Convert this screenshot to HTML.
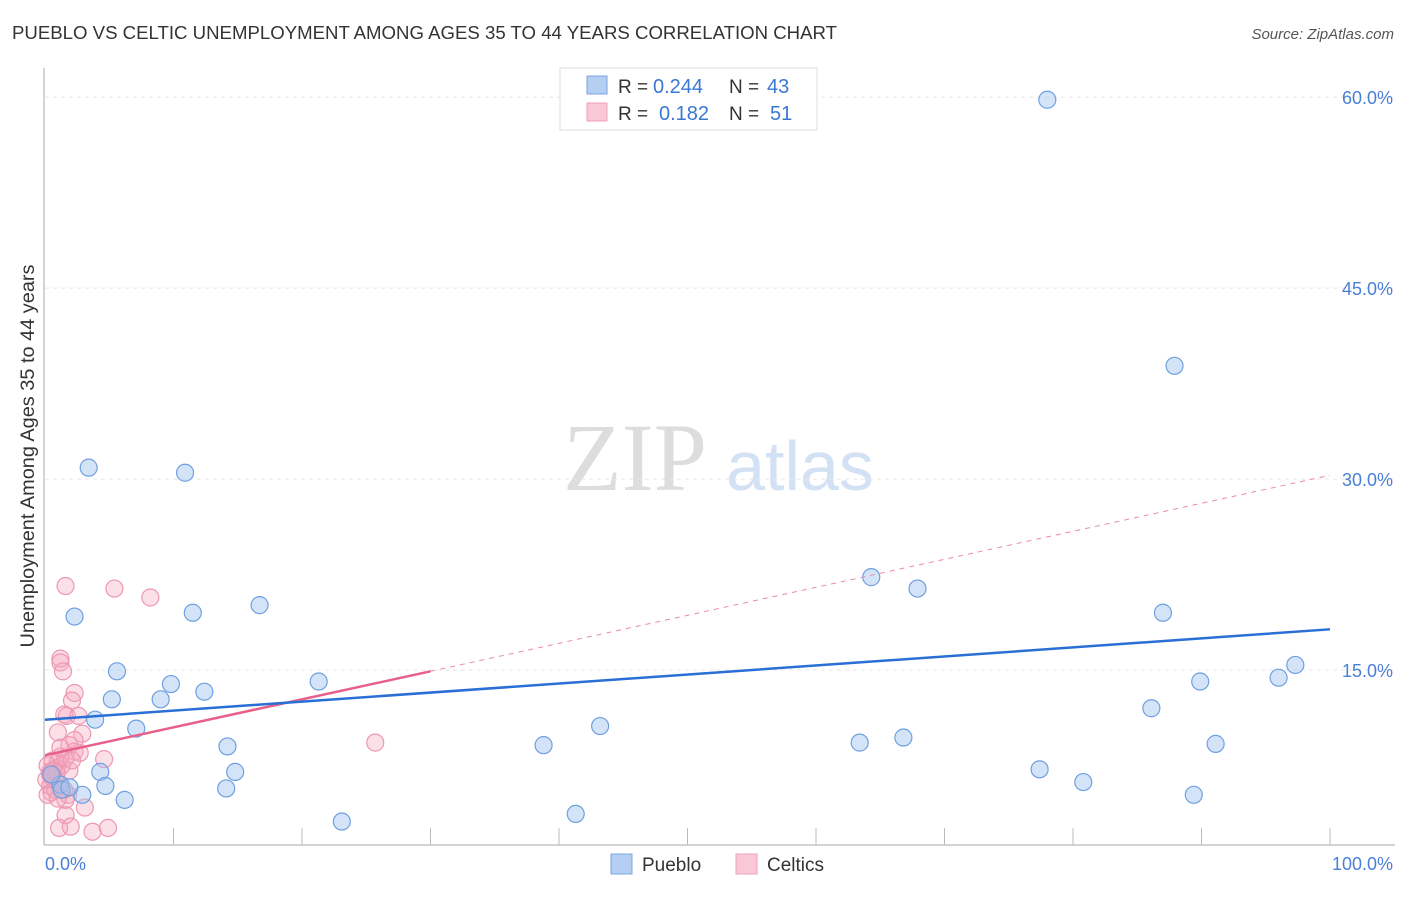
<!DOCTYPE html>
<html><head><meta charset="utf-8"><style>
body{margin:0;background:#fff;font-family:"Liberation Sans",sans-serif}
svg text{font-family:"Liberation Sans",sans-serif}
</style></head><body>
<svg id="c" width="1406" height="892">
<text x="12" y="39" font-size="18" fill="#333" textLength="825" lengthAdjust="spacingAndGlyphs">PUEBLO VS CELTIC UNEMPLOYMENT AMONG AGES 35 TO 44 YEARS CORRELATION CHART</text>
<text x="1394" y="39" font-size="15" fill="#555" font-style="italic" text-anchor="end">Source: ZipAtlas.com</text>
<text x="635" y="490" font-size="96" fill="#ddd" text-anchor="middle" style="font-family:'Liberation Serif',serif">ZIP</text>
<text x="800" y="490" font-size="70" fill="#d3e1f5" text-anchor="middle">atlas</text>
<text transform="translate(34,456) rotate(-90)" font-size="19" fill="#333" text-anchor="middle" textLength="383" lengthAdjust="spacingAndGlyphs">Unemployment Among Ages 35 to 44 years</text>
<g id="grid"></g><g id="axes"></g><g id="pts"></g><g id="lines"></g>
<g>
<rect x="560" y="68" width="257" height="62" fill="#fff" stroke="#ddd"/>
<rect x="587" y="76" width="20" height="18" fill="#b5cff2" stroke="#7aa6e0"/>
<rect x="587" y="103" width="20" height="18" fill="#f9c7d6" stroke="#eda0b8"/>
<text x="618" y="93" font-size="19" fill="#333">R =</text>
<text x="653" y="93" font-size="20" fill="#3a78d4">0.244</text>
<text x="729" y="93" font-size="19" fill="#333">N =</text>
<text x="767" y="93" font-size="20" fill="#3a78d4">43</text>
<text x="618" y="120" font-size="19" fill="#333">R =</text>
<text x="659" y="120" font-size="20" fill="#3a78d4">0.182</text>
<text x="729" y="120" font-size="19" fill="#333">N =</text>
<text x="770" y="120" font-size="20" fill="#3a78d4">51</text>
</g>
<g>
<rect x="611" y="854" width="21" height="20" fill="#b5cff2" stroke="#7aa6e0"/>
<text x="642" y="871" font-size="19" fill="#333">Pueblo</text>
<rect x="736" y="854" width="21" height="20" fill="#f9c7d6" stroke="#eda0b8"/>
<text x="767" y="871" font-size="19" fill="#333">Celtics</text>
</g>
</svg>
<script>
const yTicks=[15,30,45,60];
const xTickLabels=["0.0%","100.0%"];
const puebloX=[78.0,87.9,3.4,10.9,64.3,67.9,2.3,11.5,16.7,87.0,5.6,97.3,96.0,9.8,12.4,5.2,9.0,21.3,89.9,3.9,7.1,43.2,86.1,14.2,38.8,63.4,66.8,91.1,4.3,14.8,77.4,4.7,14.1,80.8,2.9,6.2,89.4,23.1,41.3,1.2,1.3,1.9,0.5];
const puebloY=[59.8,38.9,30.9,30.5,22.3,21.4,19.2,19.5,20.1,19.5,14.9,15.4,14.4,13.9,13.3,12.7,12.7,14.1,14.1,11.1,10.4,10.6,12.0,9.0,9.1,9.3,9.7,9.2,7.0,7.0,7.2,5.9,5.7,6.2,5.2,4.8,5.2,3.1,3.7,6.0,5.6,5.8,6.8];
const celticX=[1.6,5.4,8.2,1.2,1.2,1.4,2.3,2.1,1.5,1.7,2.6,1.0,2.9,1.9,2.3,2.7,4.6,1.2,0.6,1.0,0.9,0.4,0.5,0.8,1.0,0.4,0.5,0.2,0.8,1.8,1.6,25.7,1.9,1.3,3.1,1.6,1.1,2.0,3.7,4.9,0.1,1.2,1.6,2.1,0.2,1.5,2.3,1.0,0.6,0.9,0.4];
const celticY=[21.6,21.4,20.7,15.9,15.6,14.9,13.2,12.6,11.5,11.4,11.4,10.1,10.0,9.1,8.6,8.5,8.0,8.2,7.9,7.8,7.3,7.0,6.6,6.4,6.1,5.9,5.4,5.2,5.6,5.2,4.8,9.3,7.1,7.5,4.2,3.6,2.6,2.7,2.3,2.6,6.4,8.9,8.1,7.9,7.5,5.6,9.5,4.9,7.1,6.9,6.8];
const puebloTrend=[11.1,18.2];
const celticTrend=[8.3,30.3];
const celticSolidEnd=30;
const X=v=>45+v*12.85, Y=v=>861-v*12.73;
const NS="http://www.w3.org/2000/svg";
function mk(t,a,p){const e=document.createElementNS(NS,t);for(const k in a)e.setAttribute(k,a[k]);p.appendChild(e);return e;}
const grid=document.getElementById('grid'),axes=document.getElementById('axes'),pts=document.getElementById('pts'),lines=document.getElementById('lines');
yTicks.forEach(t=>{
 const l=mk('line',{x1:45,x2:1395,y1:Y(t),y2:Y(t),stroke:'#e6e6e6','stroke-dasharray':'4,4'},grid);
 
 
 const tx=mk('text',{x:1393,y:Y(t)+7,'font-size':18,fill:'#4a7fd6','text-anchor':'end'},axes);
 tx.textContent=t.toFixed(1)+'%';
 
 
});
const ax=mk('line',{x1:44,x2:44,y1:68,y2:845,stroke:'#aaa'},axes);


const bx=mk('line',{x1:44,x2:1395,y1:845,y2:845,stroke:'#aaa'},axes);


for(let i=1;i<=10;i++){const t=mk('line',{x1:X(i*10),x2:X(i*10),y1:828,y2:845,stroke:'#bbb'},axes);
 
 }
[[0,'start',45],[1,'end',1393]].forEach(([i,a,x])=>{const t=mk('text',{x:x,y:870,'font-size':18,fill:'#4a7fd6','text-anchor':a},axes);t.textContent=xTickLabels[i];
 
 });
celticX.forEach((x,i)=>{const c=mk('circle',{cx:X(x),cy:Y(celticY[i]),r:8.5,fill:'rgba(245,165,188,0.35)',stroke:'#ec98b2','stroke-width':1.2},pts);
 
 });
puebloX.forEach((x,i)=>{const c=mk('circle',{cx:X(x),cy:Y(puebloY[i]),r:8.5,fill:'rgba(160,195,240,0.45)',stroke:'#6f9fe0','stroke-width':1.2},pts);
 
 });
const cy=x=>celticTrend[0]+(celticTrend[1]-celticTrend[0])*x/100;
const d=mk('line',{x1:X(celticSolidEnd),y1:Y(cy(celticSolidEnd)),x2:X(100),y2:Y(cy(100)),stroke:'#eb8aa8','stroke-dasharray':'5,5','stroke-width':1},lines);


const s=mk('line',{x1:X(0),y1:Y(cy(0)),x2:X(celticSolidEnd),y2:Y(cy(celticSolidEnd)),stroke:'#e8608a','stroke-width':2.5},lines);


const b=mk('line',{x1:X(0),y1:Y(puebloTrend[0]),x2:X(100),y2:Y(puebloTrend[1]),stroke:'#2a6fd6','stroke-width':2.5},lines);


</script>
</body></html>
